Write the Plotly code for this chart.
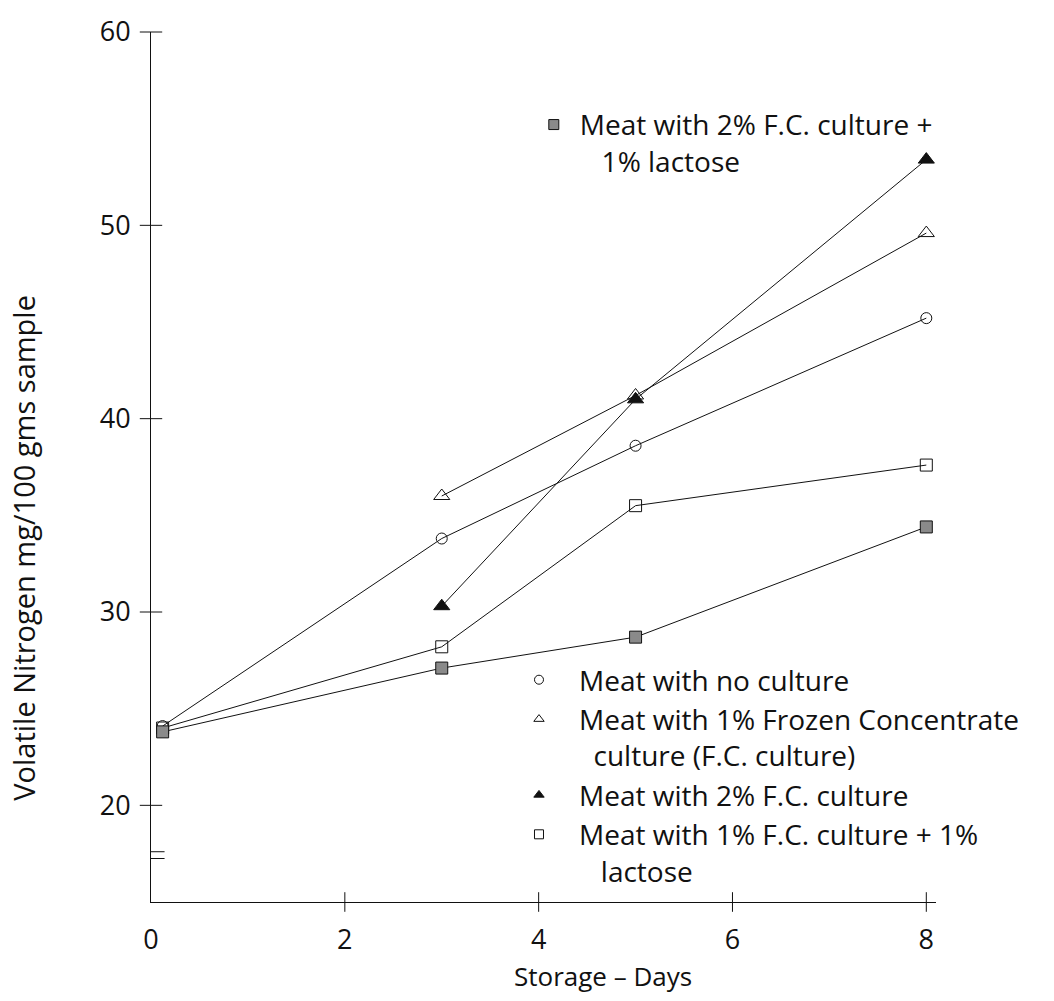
import plotly.graph_objects as go

# Storage time (days) and volatile nitrogen (mg / 100 g sample)
days = [0, 3, 5, 8]
days_late = [3, 5, 8]

no_culture = [24.1, 33.8, 38.6, 45.2]
fc1 = [36.0, 41.2, 49.6]
fc2 = [30.3, 41.0, 53.4]
fc1_lactose = [24.0, 28.2, 35.5, 37.6]
fc2_lactose = [23.8, 27.1, 28.7, 34.4]

x_ticks = [0, 2, 4, 6, 8]
y_ticks = [20, 30, 40, 50, 60]

FONT = "Open Sans"
INK = "#111111"

# day-0 readings are drawn just clear of the y-axis line
DAY0_NUDGE = 0.12


def xs(d):
    return [max(v, DAY0_NUDGE) for v in d]


NB = "\u00a0"

fig = go.Figure()

series = [
    (xs(days), no_culture, "circle-open", 11, "Meat with no culture"),
    (days_late, fc1, "triangle-up-open", 14,
     "Meat with 1% Frozen Concentrate<br>" + NB * 2 + "culture (F.C. culture)"),
    (days_late, fc2, "triangle-up", 14, "Meat with 2% F.C. culture"),
    (xs(days), fc1_lactose, "square-open", 12,
     "Meat with 1% F.C. culture + 1%<br>" + NB * 3 + "lactose"),
]

for x, y, sym, size, name in series:
    fig.add_trace(go.Scatter(
        x=x, y=y, mode="lines+markers",
        line=dict(color=INK, width=1),
        marker=dict(symbol=sym, size=size, color=INK, line=dict(color=INK, width=1)),
        showlegend=False, cliponaxis=False,
    ))
    fig.add_trace(go.Scatter(
        x=[None], y=[None], mode="markers", name=name,
        marker=dict(symbol=sym, size=9, color=INK, line=dict(color=INK, width=1)),
        legend="legend",
    ))

# 2% F.C. culture + 1% lactose: stippled grey squares
fig.add_trace(go.Scatter(
    x=xs(days), y=fc2_lactose, mode="lines+markers",
    line=dict(color=INK, width=1),
    marker=dict(symbol="square", size=12, color="#8a8a8a", line=dict(color=INK, width=1)),
    showlegend=False, cliponaxis=False,
))
fig.add_trace(go.Scatter(
    x=[None], y=[None], mode="markers",
    name="Meat with 2% F.C. culture +<br>" + NB * 3 + "1% lactose",
    marker=dict(symbol="square", size=10, color="#8a8a8a", line=dict(color=INK, width=1)),
    legend="legend2",
))

# cross-style tick marks straddling both axes
fig.add_trace(go.Scatter(
    x=[0] * len(y_ticks), y=y_ticks, mode="markers",
    marker=dict(symbol="line-ew-open", size=16, color=INK, line=dict(color=INK, width=1)),
    showlegend=False, cliponaxis=False, hoverinfo="skip",
))
fig.add_trace(go.Scatter(
    x=x_ticks[1:], y=[15] * (len(x_ticks) - 1), mode="markers",
    marker=dict(symbol="line-ns-open", size=14, color=INK, line=dict(color=INK, width=1)),
    showlegend=False, cliponaxis=False, hoverinfo="skip",
))

# axis break sign on the y-axis
for yb in (17.25, 17.6):
    fig.add_shape(type="line", xref="x", yref="y", x0=-0.1, x1=0.14, y0=yb, y1=yb,
                  line=dict(color=INK, width=1))

legend_font = dict(family=FONT, size=28, color=INK)

fig.update_layout(
    width=1054, height=1001,
    margin=dict(l=151, r=118, t=32, b=99),
    paper_bgcolor="white", plot_bgcolor="white",
    font=dict(family=FONT, color=INK),
    legend=dict(
        x=0.4433, y=0.2839, xanchor="left", yanchor="top",
        font=legend_font, bgcolor="rgba(0,0,0,0)", valign="top",
        itemwidth=70, tracegroupgap=0,
    ),
    legend2=dict(
        x=0.480, y=0.922, xanchor="left", yanchor="top",
        font=legend_font, bgcolor="rgba(0,0,0,0)", valign="top",
        itemwidth=42,
    ),
    xaxis=dict(
        range=[0, 8.1], tickvals=x_ticks, ticktext=[str(v) for v in x_ticks],
        showgrid=False, zeroline=False, showline=True, linecolor=INK, linewidth=1,
        ticks="", ticklabelstandoff=14, tickfont=dict(family=FONT, size=27, color=INK),
    ),
    yaxis=dict(
        range=[15, 60], tickvals=y_ticks, ticktext=[str(v) for v in y_ticks],
        showgrid=False, zeroline=False, showline=True, linecolor=INK, linewidth=1,
        ticks="", ticklabelstandoff=14, tickfont=dict(family=FONT, size=27, color=INK),
    ),
    annotations=[
        dict(text="Volatile Nitrogen mg/100 gms sample", textangle=-90,
             xref="paper", yref="paper", x=-0.162, y=0.407,
             xanchor="center", yanchor="middle", showarrow=False,
             font=dict(family=FONT, size=29, color=INK)),
        dict(text="Storage \u2013 Days", xref="paper", yref="paper",
             x=0.576, y=-0.085, xanchor="center", yanchor="middle", showarrow=False,
             font=dict(family=FONT, size=26, color=INK)),
    ],
)

fig.write_html("out.html")
